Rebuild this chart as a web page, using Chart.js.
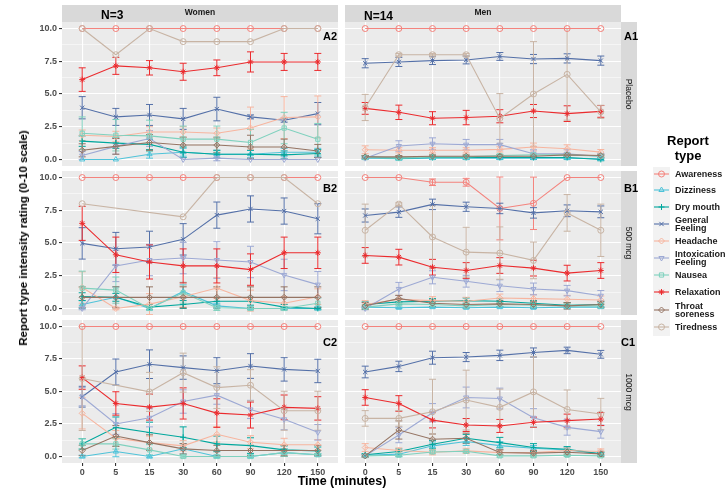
<!DOCTYPE html>
<html><head><meta charset="utf-8">
<script src="https://cdn.jsdelivr.net/npm/chart.js@4.4.1/dist/chart.umd.min.js"></script>
<style>
body{margin:0;background:#fff;}
#wrap{position:relative;width:728px;height:495px;overflow:hidden;font-family:"Liberation Sans",Arial,sans-serif;color:#1a1a1a;}
.t{position:absolute;white-space:nowrap;font-weight:bold;}
.strip{position:absolute;background:#D9D9D9;}
canvas{position:absolute;}
</style></head><body><div id="wrap"></div>
<script>
// ---------- data ----------
const times = ['0','5','15','30','60','90','120','150'];
const seriesNames = ['Awareness','Dizziness','Dry mouth','General Feeling','Headache','Intoxication Feeling','Nausea','Relaxation','Throat soreness','Tiredness'];
const yTickValues = [0,1.25,2.5,3.75,5,6.25,7.5,8.75,10];
const sexLabels = ['Women','Men'];
const sampleSizes = ['N=3','N=14'];
const doseLabels = ['Placebo','500 mcg','1000 mcg'];

// Women, placebo
const A2_mean = [
 [10,10,10,10,10,10,10,10],
 [0,0,0.4,0.55,0.4,0.4,0.55,0.55],
 [1.4,1.25,1.15,0.55,0.4,0.4,0.35,0.45],
 [3.95,3.25,3.4,3.1,3.85,3.25,3.0,3.5],
 [1.85,1.75,2.1,2.1,2.0,2.4,3.2,3.25],
 [0.3,1.0,1.6,0,0.1,0,0,0],
 [2.0,1.85,1.8,1.55,1.55,1.3,2.4,1.55],
 [6.1,7.15,7.0,6.7,7.0,7.45,7.45,7.45],
 [0.7,1.0,1.3,1.1,1.1,0.95,0.95,0.65],
 [10,8,10,9,9,9,10,10]];
const A2_err = [
 [0,0,0,0,0,0,0,0],
 [0,0,0.3,0.3,0.3,0.3,0.3,0.3],
 [0.4,0.4,0.4,0.4,0.3,0.3,0.3,0.3],
 [0.85,0.65,0.8,0.8,0.9,0.15,0.15,0.85],
 [0.4,0.4,0.4,0.4,0.4,1.6,1.6,1.6],
 [0.3,0.6,0.6,0,0.2,0,0,0],
 [1.25,1.2,1.2,1.0,1.0,1.0,1.2,1.2],
 [0.9,0.65,0.55,0.65,0.6,0.77,0.65,0.65],
 [0.5,0.6,0.6,0.6,0.6,0.9,0.6,0.5],
 [0,0,0,0,0,0,0,0]];
// Men, placebo
const A1_mean = [
 [10,10,10,10,10,10,10,10],
 [0.1,0.05,0.1,0.1,0.1,0.1,0.1,0.05],
 [0.2,0.1,0.15,0.15,0.15,0.15,0.15,0.0],
 [7.35,7.45,7.55,7.6,7.87,7.67,7.72,7.55],
 [0.74,0.7,0.7,0.7,0.77,0.95,0.82,0.56],
 [0.1,1.03,1.2,1.13,1.13,0.44,0.44,0.23],
 [0.15,0.1,0.2,0.2,0.3,0.35,0.35,0.25],
 [3.9,3.6,3.15,3.2,3.3,3.7,3.5,3.67],
 [0.2,0.2,0.25,0.25,0.25,0.25,0.35,0.3],
 [3.97,8.0,8.0,8.0,3.13,5.0,6.5,3.64]];
const A1_err = [
 [0,0,0,0,0,0,0,0],
 [0.1,0.1,0.1,0.1,0.1,0.1,0.1,0.1],
 [0.1,0.1,0.1,0.1,0.1,0.1,0.1,0.1],
 [0.35,0.35,0.3,0.3,0.3,0.35,0.35,0.35],
 [0.3,0.2,0.2,0.2,0.2,0.3,0.3,0.2],
 [0.1,0.4,0.45,0.4,0.4,0.3,0.3,0.2],
 [0.1,0.1,0.1,0.1,0.1,0.1,0.1,0.1],
 [0.45,0.55,0.5,0.55,0.5,0.5,0.6,0.45],
 [0.1,0.1,0.1,0.1,0.1,0.1,0.1,0.1],
 [1.0,0.1,0.1,0.1,1.9,4.0,3.5,0.5]];
// Women, 500 mcg
const B2_mean = [
 [10,10,10,10,10,10,10,10],
 [0.3,0.85,0,1.3,0.2,0,0,0],
 [0.9,0.85,0.1,0.3,0.55,0.55,0.1,0],
 [4.97,4.56,4.7,5.28,7.13,7.6,7.44,6.85],
 [1.6,0,0.33,0.9,1.56,0.6,0.4,0.9],
 [0,3.25,3.7,3.85,3.7,3.55,2.56,1.82],
 [1.55,1.4,0,1.2,0.05,0,0,0.4],
 [6.5,4.1,3.55,3.25,3.25,2.97,4.25,4.25],
 [0.85,0.85,0.85,0.85,0.85,0.85,0.85,0.85],
 [8.0,null,null,7.0,10,10,10,8.0]];
const B2_err = [
 [0,0,0,0,0,0,0,0],
 [0.3,0.8,0.1,0.5,0.2,0.1,0.1,0.1],
 [0.3,0.3,0.2,0.3,0.3,0.3,0.2,0.1],
 [1.2,1.25,1.2,1.2,1.0,1.0,1.0,1.15],
 [1.2,0.1,0.8,0.8,0.8,0.8,0.5,0.6],
 [0.1,1.2,1.2,1.2,1.4,1.2,1.2,1.0],
 [1.3,1.0,0.1,0.8,0.2,0.1,0.1,0.4],
 [1.3,1.35,1.3,1.3,1.3,1.2,1.2,1.2],
 [0.8,0.8,0.8,0.8,0.8,0.8,0.8,0.8],
 [0,0,0,0,0,0,0,0]];
// Men, 500 mcg
const B1_mean = [
 [10,10,9.64,9.64,7.64,8.03,10,10],
 [0.1,0.05,0.1,0.05,0.1,0.05,0.1,0.1],
 [0.3,0.5,0.55,0.6,0.55,0.4,0.25,0.3],
 [7.1,7.36,7.95,7.77,7.64,7.3,7.46,7.38],
 [0.3,0.7,0.6,0.55,0.8,0.75,0.7,0.65],
 [0,1.49,2.38,2.08,1.74,1.49,1.36,0.97],
 [0.1,0.35,0.3,0.2,0.3,0.25,0.2,0.2],
 [4.05,3.92,3.15,2.9,3.28,3.08,2.7,2.9],
 [0.2,0.75,0.4,0.3,0.35,0.3,0.2,0.3],
 [5.97,7.97,5.46,4.3,4.23,3.67,7.3,5.97]];
const B1_err = [
 [0,0,0.25,0.3,2.4,2.0,0,0],
 [0.05,0.05,0.05,0.05,0.05,0.05,0.05,0.05],
 [0.2,0.2,0.2,0.2,0.2,0.2,0.2,0.2],
 [0.5,0.4,0.4,0.35,0.4,0.4,0.45,0.45],
 [0.3,0.3,0.3,0.3,0.3,0.3,0.3,0.3],
 [0.1,0.5,0.5,0.45,0.45,0.45,0.4,0.4],
 [0.15,0.15,0.15,0.15,0.15,0.15,0.15,0.15],
 [0.6,0.6,0.6,0.6,0.6,0.6,0.6,0.6],
 [0.25,0.25,0.25,0.25,0.25,0.25,0.25,0.25],
 [2.0,0.1,2.4,1.9,2.0,1.4,1.4,2.0]];
// Women, 1000 mcg
const C2_mean = [
 [10,10,10,10,10,10,10,10],
 [0,0.38,0,0.59,0,0,0.3,0.13],
 [0.97,2.24,1.84,1.48,0.97,0.84,0.51,0.43],
 [4.6,6.5,7.1,6.84,6.6,6.96,6.7,6.58],
 [3.32,1.4,1.07,0.82,1.71,1.1,0.9,0.9],
 [4.6,2.5,2.98,4.23,4.72,3.62,2.86,1.86],
 [0.97,0.97,0.51,0,0,0,0.3,0.13],
 [6.07,4.08,3.8,4.08,3.34,3.19,3.78,3.7],
 [0.46,1.58,1.07,0.59,0.46,0.46,0.46,0.46],
 [6.0,null,4.97,6.45,5.3,5.48,3.52,3.52]];
const C2_err = [
 [0,0,0,0,0,0,0,0],
 [0.1,0.4,0.1,0.4,0.1,0.1,0.3,0.1],
 [0.4,0.8,0.8,0.8,0.6,0.6,0.3,0.3],
 [0.8,1.0,1.1,0.9,1.0,0.95,0.9,0.9],
 [1.2,0.6,0.5,0.4,0.6,0.5,0.5,0.4],
 [0.7,0.8,0.7,0.9,0.7,0.7,0.8,0.6],
 [0.4,0.4,0.4,0.1,0.1,0.1,0.3,0.1],
 [0.9,0.9,1.0,1.2,1.1,1.0,0.95,0.9],
 [0.4,0.8,0.6,0.4,0.4,0.4,0.4,0.4],
 [4.0,0,1.5,1.5,1.6,1.2,1.5,1.5]];
// Men, 1000 mcg
const C1_mean = [
 [10,10,10,10,10,10,10,10],
 [0.1,0.18,0.82,1.15,0.84,0.64,0.51,0.2],
 [0.13,0.38,0.94,1.4,1.07,0.69,0.56,0.2],
 [6.5,6.93,7.6,7.65,7.78,8.0,8.16,7.86],
 [0.69,0.46,0.33,0.43,0.3,0.3,0.46,0.38],
 [0.05,1.66,3.37,4.54,4.46,2.98,2.24,1.91],
 [0.05,0.1,0.35,0.4,0.05,0.05,0.1,0.05],
 [4.54,4.08,2.8,2.42,2.35,2.63,2.76,2.88],
 [0.05,2.04,1.33,1.4,0.31,0.26,0.33,0.2],
 [2.93,2.93,3.44,4.34,3.78,4.97,3.62,3.27]];
const C1_err = [
 [0,0,0,0,0,0,0,0],
 [0.1,0.2,0.3,0.3,0.3,0.2,0.2,0.1],
 [0.1,0.2,0.3,0.3,0.4,0.3,0.2,0.1],
 [0.45,0.4,0.5,0.35,0.4,0.35,0.25,0.3],
 [0.3,0.2,0.2,0.2,0.2,0.2,0.2,0.2],
 [0.1,0.6,0.7,0.8,0.8,0.7,0.6,0.5],
 [0.1,0.1,0.1,0.1,0.1,0.1,0.1,0.1],
 [0.6,0.6,0.6,0.5,0.5,0.4,0.5,0.5],
 [0.1,0.7,0.4,0.4,0.2,0.2,0.2,0.2],
 [0.6,0.6,2.5,2.3,1.4,2.7,1.5,1.2]];

// ---------- styles ----------
const colors = ['#F4837D','#4FC3D9','#00A79D','#5470A8','#F7B59F','#9DA9D4','#7FD1BE','#EB2B2E','#957463','#C8B4A4'];
const pStyles = ['circle','triangle','cross','crossRot','rectRot','triangle','rect','star','rectRot','circle'];
const pRot = [0,0,0,0,0,180,0,0,0,0];

const wrap = document.getElementById('wrap');
function addText(txt, css){ const d=document.createElement('div'); d.className='t'; d.innerHTML=txt; Object.assign(d.style, css); wrap.appendChild(d); return d; }
function addBox(css){ const d=document.createElement('div'); d.className='strip'; Object.assign(d.style, css); wrap.appendChild(d); return d; }

const panelBg = { id:'panelBg', beforeDraw(chart){ const {ctx, chartArea:a}=chart; ctx.save(); ctx.fillStyle='#EBEBEB'; ctx.fillRect(a.left,a.top,a.right-a.left,a.bottom-a.top); ctx.restore(); } };
const errorBars = { id:'errorBars', beforeDatasetsDraw(chart){
  const {ctx, chartArea:a, scales:{x,y}} = chart;
  ctx.save(); ctx.beginPath(); ctx.rect(a.left,a.top,a.right-a.left,a.bottom-a.top); ctx.clip();
  chart.data.datasets.forEach(ds=>{
    const errs = ds.errors; if(!errs) return;
    ctx.strokeStyle = ds.borderColor; ctx.lineWidth = 1;
    ds.data.forEach((p,j)=>{
      const e = errs[j]; if(p.y==null || !e) return;
      const px = x.getPixelForValue(p.x), t = y.getPixelForValue(p.y+e), b = y.getPixelForValue(p.y-e), hw=3.5;
      ctx.beginPath(); ctx.moveTo(px,t); ctx.lineTo(px,b);
      ctx.moveTo(px-hw,t); ctx.lineTo(px+hw,t); ctx.moveTo(px-hw,b); ctx.lineTo(px+hw,b); ctx.stroke();
    });
  });
  ctx.restore();
}};
function zeroPad(s){ s.paddingTop=0; s.paddingBottom=0; s.paddingLeft=0; s.paddingRight=0; }

const cols = [{left:22, w:316, yw:40}, {left:345, w:276, yw:0}];
const rows = [{top:22, h:144}, {top:171, h:144}, {top:320, h:157}];
const panels = [
 {mean:A2_mean, err:A2_err, c:0, r:0, tag:'A2'}, {mean:A1_mean, err:A1_err, c:1, r:0, tag:'A1'},
 {mean:B2_mean, err:B2_err, c:0, r:1, tag:'B2'}, {mean:B1_mean, err:B1_err, c:1, r:1, tag:'B1'},
 {mean:C2_mean, err:C2_err, c:0, r:2, tag:'C2'}, {mean:C1_mean, err:C1_err, c:1, r:2, tag:'C1'}];

const tickFont = {family:'"Liberation Sans", Arial, sans-serif', size:9, weight:'bold'};
panels.forEach(p=>{
  const col = cols[p.c], row = rows[p.r];
  const isLeft = p.c===0, isBottom = p.r===2;
  const cv = document.createElement('canvas');
  cv.width = col.w; cv.height = row.h;
  cv.style.left = col.left+'px'; cv.style.top = row.top+'px';
  cv.style.width = col.w+'px'; cv.style.height = row.h+'px';
  wrap.appendChild(cv);
  const datasets = seriesNames.map((name,i)=>({
    label:name, data:p.mean[i].map((v,j)=>({x:j,y:v})), errors:p.err[i],
    borderColor:colors[i], backgroundColor:'rgba(0,0,0,0)', borderWidth:1.1,
    pointStyle:pStyles[i], rotation:pRot[i], pointRadius:3, pointBorderWidth:1,
    pointBorderColor:colors[i], pointBackgroundColor:'rgba(0,0,0,0)',
    spanGaps:true, tension:0, order:10-i }));
  new Chart(cv, {
    type:'line',
    data:{datasets},
    plugins:[panelBg, errorBars],
    options:{
      responsive:false, animation:false, events:[],
      layout:{padding:0, autoPadding:false},
      plugins:{legend:{display:false}, tooltip:{enabled:false}},
      scales:{
        x:{type:'linear', min:-0.6, max:7.6,
           afterBuildTicks:s=>{ s.ticks = times.map((t,i)=>({value:i})); },
           afterFit:s=>{ s.height = isBottom?14:0; zeroPad(s); },
           ticks:{display:isBottom, autoSkip:false, maxRotation:0, padding:1, color:'#4D4D4D', font:tickFont, callback:v=>times[v]},
           grid:{color:'#FFFFFF', lineWidth:1.1, drawTicks:isBottom, tickLength:3, tickColor:'#333333'},
           border:{display:false}},
        y:{type:'linear', min:-0.5, max:10.5,
           afterBuildTicks:s=>{ s.ticks = yTickValues.map(v=>({value:v})); },
           afterFit:s=>{ s.width = col.yw; zeroPad(s); },
           ticks:{display:isLeft, padding:2, color:'#4D4D4D', font:tickFont, callback:v=>(v%2.5===0)? v.toFixed(1):''},
           grid:{color:'#FFFFFF', lineWidth:c=>(c.tick && c.tick.value%2.5===0)?1.1:0.5, drawTicks:isLeft, tickLength:3,
                 tickColor:c=>(c.tick && c.tick.value%2.5===0)?'#333333':'rgba(0,0,0,0)'},
           border:{display:false}}
      }
    }
  });
  if (isLeft) {
    const ty = [37,189,343][p.r];
    addText(p.tag, {left:'322px', top:(ty-7)+'px', fontSize:'11px', width:'16px', textAlign:'center', color:'#000'});
  }
});

// top strips
[[62,276],[345,276]].forEach((s,i)=>{
  addBox({left:s[0]+'px', top:'5px', width:s[1]+'px', height:'17px'});
  addText(sexLabels[i], {left:s[0]+'px', width:s[1]+'px', textAlign:'center', top:'7px', fontSize:'8.5px', color:'#1a1a1a'});
});
addText(sampleSizes[0], {left:'101px', top:'8px', fontSize:'12px', color:'#000'});
addText(sampleSizes[1], {left:'364px', top:'9px', fontSize:'12px', color:'#000'});
// right strips
[[22,144],[171,144],[320,143]].forEach((s,i)=>{
  addBox({left:'621px', top:s[0]+'px', width:'16px', height:s[1]+'px'});
  addText(doseLabels[i], {left:'629px', top:(s[0]+s[1]/2)+'px', fontSize:'8.5px', fontWeight:'normal', color:'#1a1a1a',
     transform:'translate(-50%,-50%) rotate(90deg)'});
});
['A1','B1','C1'].forEach((t,i)=>{ addText(t, {left:(i===2?620:623)+'px', top:([37,189,343][i]-7)+'px', fontSize:'11px', width:'16px', textAlign:'center', color:'#000'}); });

// axis titles
addText('Report type intensity rating (0-10 scale)', {left:'23px', top:'238px', fontSize:'11.5px', color:'#000', transform:'translate(-50%,-50%) rotate(-90deg)'});
addText('Time (minutes)', {left:'342px', top:'481px', fontSize:'12.5px', color:'#000', transform:'translate(-50%,-50%)'});

// legend
addText('Report<br>type', {left:'688px', top:'148px', fontSize:'13px', color:'#000', textAlign:'center', lineHeight:'15px', transform:'translate(-50%,-50%)'});
const legY = [174,190,207,224,241,258,275,292,310,327];
const legTxt = ['Awareness','Dizziness','Dry mouth','General<br>Feeling','Headache','Intoxication<br>Feeling','Nausea','Relaxation','Throat<br>soreness','Tiredness'];
const lc = document.createElement('canvas'); lc.width=20; lc.height=172;
lc.style.left='652px'; lc.style.top='166px'; wrap.appendChild(lc);
const lctx = lc.getContext('2d');
lctx.fillStyle='#F2F2F2'; lctx.fillRect(1,1,17,169);
seriesNames.forEach((n,i)=>{
  const y = legY[i]-166;
  lctx.strokeStyle=colors[i]; lctx.lineWidth=1.1;
  lctx.beginPath(); lctx.moveTo(2,y); lctx.lineTo(17,y); lctx.stroke();
  if (Chart.helpers && Chart.helpers.drawPoint) {
    lctx.save(); lctx.strokeStyle=colors[i]; lctx.fillStyle='rgba(0,0,0,0)'; lctx.lineWidth=1;
    Chart.helpers.drawPoint(lctx, {pointStyle:pStyles[i], rotation:pRot[i], radius:3, borderWidth:1}, 9.5, y);
    lctx.restore();
  }
  addText(legTxt[i], {left:'675px', top:legY[i]+'px', fontSize:'9px', lineHeight:'8px', color:'#1a1a1a', transform:'translateY(-50%)'});
});
</script></body></html>
